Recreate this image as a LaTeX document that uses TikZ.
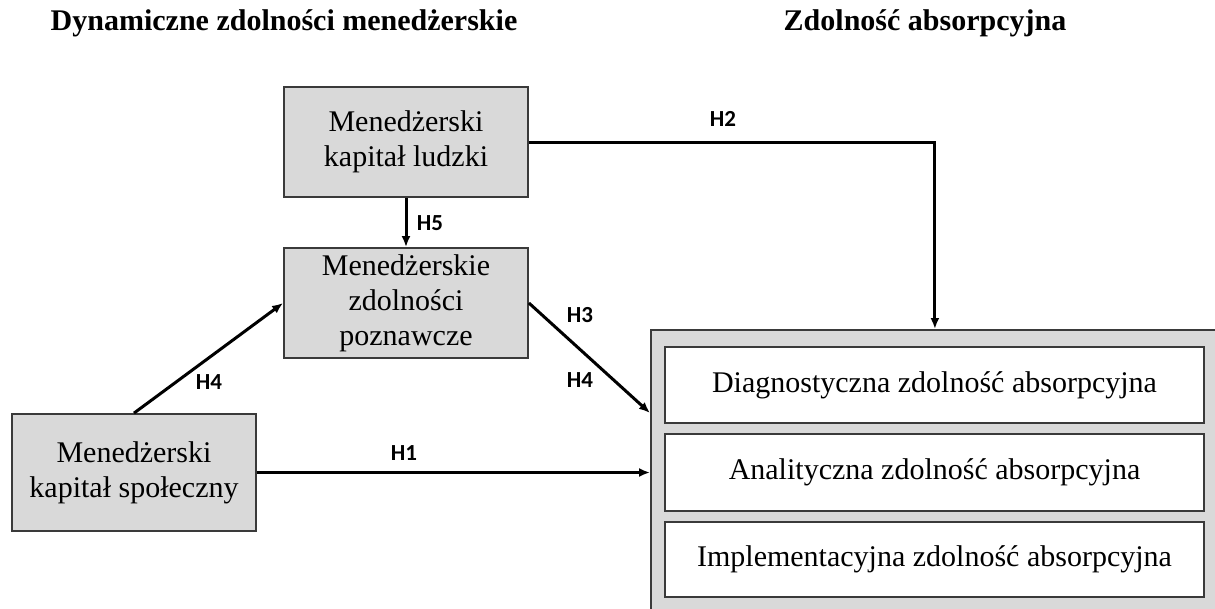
\documentclass[tikz,border=0pt]{standalone}
\usepackage{fontspec}
\setmainfont{Liberation Serif}
\newfontfamily\labfont{Carlito}
\usetikzlibrary{arrows.meta,calc}
\definecolor{boxgray}{HTML}{D9D9D9}
\definecolor{edgegray}{HTML}{3A3A3A}
\begin{document}
\begin{tikzpicture}[x=1pt,y=-1pt,
  gbox/.style={draw=edgegray,line width=1.8pt,fill=boxgray,minimum width=244pt,align=center,inner sep=0pt,font=\fontsize{30}{35}\selectfont},
  wbox/.style={draw=edgegray,line width=1.8pt,fill=white,minimum width=539pt,inner sep=0pt,font=\fontsize{30}{35}\selectfont},
  conn/.style={line width=3pt,-{Latex[length=11pt,width=9pt]}},
  hlab/.style={font=\labfont\bfseries\fontsize{23}{27}\selectfont,inner sep=0pt},
  ttl/.style={font=\bfseries\fontsize{30}{36}\selectfont,inner sep=0pt}]
\useasboundingbox (0,0) rectangle (1215,608);
\fill[white] (0,0) rectangle (1215,608);
% titles
\node[ttl] (t1) at (284,23) {Dynamiczne zdolności menedżerskie};
\node[ttl] (t2) at (925,23) {Zdolność absorpcyjna};
% left boxes
\node[gbox,minimum height=110pt] (A) at (406,142) {Menedżerski\\kapitał ludzki};
\node[gbox,minimum height=110pt] (B) at (406,303) {Menedżerskie\\zdolności\\poznawcze};
\node[gbox,minimum height=117pt] (D) at (134,472.5) {Menedżerski\\kapitał społeczny};
% right container
\node[draw=edgegray,line width=1.8pt,fill=boxgray,minimum width=570pt,minimum height=286pt,inner sep=0pt,anchor=north west] (C) at (650,329) {};
\node[wbox,minimum height=76pt] (C1) at (934.5,385) {Diagnostyczna zdolność absorpcyjna};
\node[wbox,minimum height=77pt] (C2) at (934.5,472.5) {Analityczna zdolność absorpcyjna};
\node[wbox,minimum height=75pt] (C3) at (934.5,559.5) {Implementacyjna zdolność absorpcyjna};
% connectors
\coordinate (Cin) at ($(C.north west)+(0,84)$);
\draw[conn] (A.south) -- (B.north);
\draw[conn] (D.north) -- (B.west);
\draw[conn] (B.east) -- (Cin);
\draw[conn] (D.east) -- (D.east -| C.west);
\draw[conn] (A.east) -| ($(C.north)+(-1,0)$);
% labels
\node[hlab] (l5) at (430,223) {H5};
\node[hlab] (l2) at (723,119) {H2};
\node[hlab] (l4a) at (209,382) {H4};
\node[hlab] (l3) at (580,315) {H3};
\node[hlab] (l4b) at (580,380) {H4};
\node[hlab] (l1) at (404,453) {H1};
\end{tikzpicture}
\end{document}
